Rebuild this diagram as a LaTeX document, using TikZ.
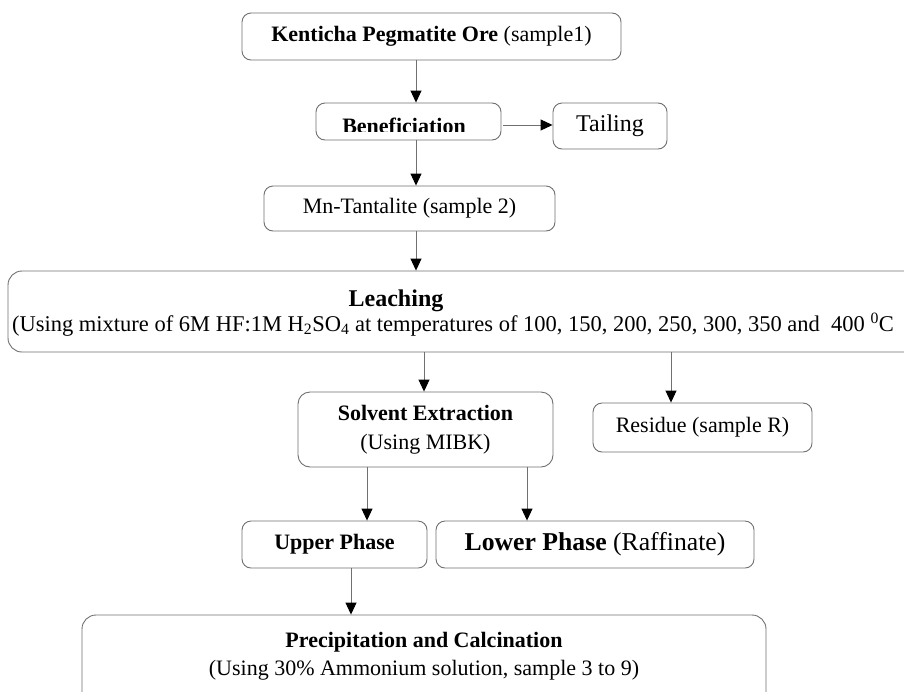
\documentclass[tikz,border=0pt]{standalone}
\usepackage{fontspec}
\setmainfont{Liberation Serif}
\usetikzlibrary{arrows.meta}
\definecolor{edge}{HTML}{707070}
\begin{document}
\begin{tikzpicture}[x=1pt,y=-1pt,
 box/.style={draw=edge, line width=0.9pt, rounded corners=9pt, inner sep=0pt, align=center, font=\fontsize{22}{29}\selectfont},
 txt/.style={inner sep=0pt, font=\fontsize{22}{29}\selectfont},
 arr/.style={draw=edge, line width=0.9pt, -{Triangle[width=11pt,length=12pt,color=black]}}]
\useasboundingbox (0,0) rectangle (904,691);
\fill[white] (0,0) rectangle (904,691);
% boxes
\node[box, minimum width=379pt, minimum height=47pt] (ore) at (431.5,36.5) {\textbf{Kenticha Pegmatite Ore} (sample1)};
\node[box, minimum width=185pt, minimum height=37pt] (benef) at (408.5,121.5) {};
\begin{scope}
\clip (316,103) rectangle (501,131);
\node[txt, anchor=base] (benefT) at (404,133.5) {\textbf{Beneficiation}};
\end{scope}
\node[box, minimum width=114pt, minimum height=46pt, font=\fontsize{24}{29}\selectfont] (tail) at (610,126) {\raisebox{-3pt}{Tailing}};
\node[box, minimum width=291pt, minimum height=45pt] (mn) at (409.5,208.5) {Mn-Tantalite (sample 2)};
\node[box, rounded corners=14pt, minimum width=912pt, minimum height=81pt] (leach) at (464,311.5) {};
\node[txt, anchor=base, font=\fontsize{24}{29}\selectfont] (leachT) at (396,306) {\textbf{Leaching}};
\node[txt, anchor=base, font=\fontsize{22.5}{29}\selectfont] (leachS) at (453,331) {(Using mixture of 6M HF:1M H\textsubscript{2}SO\textsubscript{4} at temperatures of 100, 150, 200, 250, 300, 350 and\ \ 400 \textsuperscript{0}C};
\node[box, rounded corners=12pt, minimum width=255pt, minimum height=75pt] (se) at (425.5,429.5) {\textbf{Solvent Extraction}\\(Using MIBK)};
\node[box, minimum width=219pt, minimum height=49pt] (res) at (702.5,427.5) {Residue (sample R)};
\node[box, minimum width=185pt, minimum height=47pt] (up) at (334.5,544.5) {\textbf{Upper Phase}};
\node[box, minimum width=318pt, minimum height=47pt, font=\fontsize{25.7}{29}\selectfont] (low) at (595,544.5) {\textbf{Lower Phase} (Raffinate)};
\node[box, rounded corners=14pt, minimum width=684pt, minimum height=105pt] (pre) at (424,667.5) {};
\node[txt, anchor=base] (preT) at (424,647) {\textbf{Precipitation and Calcination}};
\node[txt, anchor=base] (preS) at (424,675) {(Using 30\% Ammonium solution, sample 3 to 9)};
% connector x positions
\coordinate (x1) at (416,0);
\coordinate (x2) at (424,0);
\coordinate (x3) at (671,0);
\coordinate (x4) at (367,0);
\coordinate (x5) at (527,0);
\coordinate (x6) at (351,0);
\coordinate (y1) at (0,125);
% connectors
\draw[arr] (ore.south -| x1) -- (benef.north -| x1);
\draw[arr] ([xshift=2pt]benef.east |- y1) -- (tail.west |- y1);
\draw[arr] (benef.south -| x1) -- (mn.north -| x1);
\draw[arr] (mn.south -| x1) -- (leach.north -| x1);
\draw[arr] (leach.south -| x2) -- (se.north -| x2);
\draw[arr] (leach.south -| x3) -- (res.north -| x3);
\draw[arr] (se.south -| x4) -- (up.north -| x4);
\draw[arr] (se.south -| x5) -- (low.north -| x5);
\draw[arr] (up.south -| x6) -- (pre.north -| x6);
\end{tikzpicture}
\end{document}
